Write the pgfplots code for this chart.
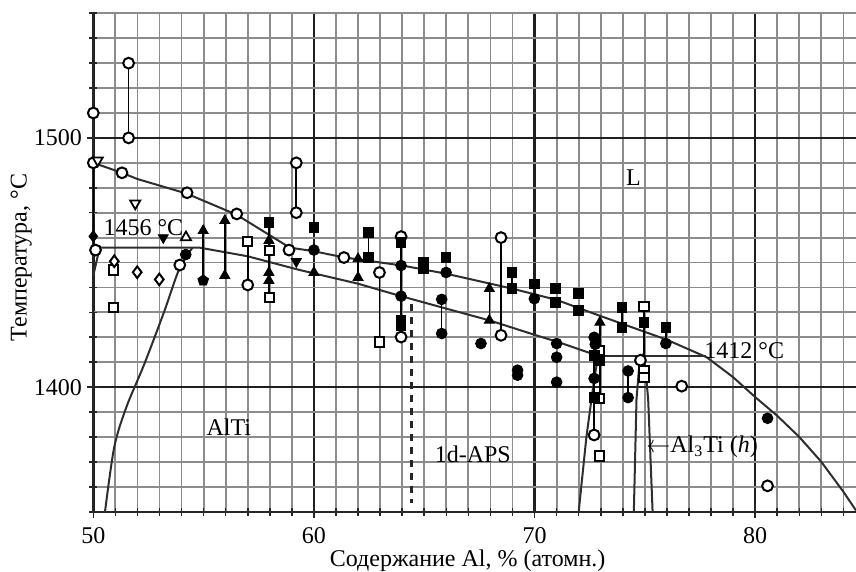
\documentclass[border=0pt]{standalone}
\usepackage{fontspec}
\setmainfont{Liberation Serif}
\usepackage{pgfplots}
\pgfplotsset{compat=1.18}

% marker styles used for the experimental points
\pgfplotsset{
  oc/.style={only marks, mark=*, mark size=2.7pt, mark options={draw=black, fill=white, line width=1pt}},
  fc/.style={only marks, mark=*, mark size=2.7pt, mark options={draw=black, fill=black}},
  os/.style={only marks, mark=square*, mark size=2.3pt, mark options={draw=black, fill=white, line width=1pt}},
  fs/.style={only marks, mark=square*, mark size=2.4pt, mark options={draw=black, fill=black}},
  ft/.style={only marks, mark=triangle*, mark size=2.9pt, mark options={draw=black, fill=black}},
  otu/.style={only marks, mark=triangle*, mark size=2.9pt, mark options={draw=black, fill=white, line width=0.9pt}},
  ftd/.style={only marks, mark=triangle*, mark size=2.9pt, mark options={draw=black, fill=black, rotate=180}},
  otd/.style={only marks, mark=triangle*, mark size=2.9pt, mark options={draw=black, fill=white, line width=0.9pt, rotate=180}},
  od/.style={only marks, mark=diamond*, mark size=2.9pt, mark options={draw=black, fill=white, line width=1pt}},
  fd/.style={only marks, mark=diamond*, mark size=2.9pt, mark options={draw=black, fill=black}},
  fp/.style={only marks, mark=pentagon*, mark size=2.8pt, mark options={draw=black, fill=black}},
  phase/.style={black!82, line width=1pt, no marks},
  conn/.style={black, line width=0.8pt, no marks},
}

\begin{document}
\fontsize{12}{14.4}\selectfont
\begin{tikzpicture}
\begin{axis}[
  name=ax,
  scale only axis,
  width=381.3pt, height=249.2pt,
  xmin=50, xmax=84.57, ymin=1350, ymax=1550,
  axis lines=left,
  axis line style={-, black!85, line width=1pt},
  every inner x axis line/.append style={-},
  every outer x axis line/.append style={-},
  every inner y axis line/.append style={-},
  every outer y axis line/.append style={-},
  xtick={50,60,70,80}, ytick={1400,1500},
  minor xtick={51,...,84},
  minor ytick={1350,1360,...,1550},
  grid=both,
  major grid style={black!88, line width=1.3pt},
  minor grid style={black!45, line width=0.9pt},
  tick align=center,
  major tick length=6pt, minor tick length=4pt,
  tick style={black!85, line width=0.8pt},
  /pgf/number format/assume math mode=true,
  /pgf/number format/1000 sep={},
  xticklabel style={inner sep=0.5pt, yshift=-4pt},
  yticklabel style={xshift=1.5pt},
  xlabel={Содержание Al, \% (атомн.)},
  ylabel={Температура, °C},
  xlabel style={at={(axis description cs:0.4907,-0.110)}, anchor=base, inner sep=0.5pt},
  ylabel style={at={(axis description cs:-0.0944,0.51)}, anchor=center},
  clip=false,
]

% phase boundaries
\addplot[phase] coordinates {
  (50,1490) (51.3,1486) (52,1483.5) (54.22,1477.7) (56.49,1469.2) (58.9,1456)
  (59.95,1454.6) (61.4,1452) (64,1448.8) (66,1445.5) (69,1439.5) (71,1435)
  (73,1428.5) (76,1419) (77.8,1412) (79,1404) (80,1396) (81,1388.5)
  (82,1380) (83,1370) (84,1358) (84.57,1350.5)};
\addplot[phase] coordinates {
  (50.3,1456) (54.8,1456) (57,1452.5) (59.35,1447) (62,1441.5) (63.95,1436.5)
  (66,1431.5) (67.95,1426.8) (70,1421) (71.1,1418) (72.9,1412.5)};
\addplot[phase] coordinates {(50.31,1456.8) (50,1444.8)};
\addplot[phase, smooth, tension=0.5] coordinates {
  (50.53,1350) (50.95,1376) (51.5,1392) (52.3,1409) (53.2,1430) (53.9,1447.5) (54.5,1456)};
\addplot[phase] coordinates {(72.9,1412.3) (77.75,1412.3)};
\addplot[phase] coordinates {(72.0,1350) (72.35,1380) (72.7,1403) (72.88,1412.5)};
\addplot[phase] coordinates {
  (74.5,1350) (74.62,1395) (74.74,1408) (74.88,1412.3) (75.02,1408) (75.15,1395) (75.35,1350)};
\addplot[black!85, line width=1.3pt, dash pattern=on 3.5pt off 3pt, no marks]
  coordinates {(64.42,1433.5) (64.42,1353.5)};

% vertical bars joining paired measurements
\addplot[conn] coordinates {(50,1455) (50,1490)};
\addplot[conn] coordinates {(51.6,1500) (51.6,1530)};
\addplot[conn] coordinates {(59.2,1470) (59.2,1490)};
\addplot[conn] coordinates {(54.98,1442.8) (54.98,1462.8)};
\addplot[conn] coordinates {(55.96,1444.8) (55.96,1466.8)};
\addplot[conn] coordinates {(57,1441) (57,1458.4)};
\addplot[conn] coordinates {(57.96,1436) (57.96,1466)};
\addplot[conn] coordinates {(62,1444) (62,1451.5)};
\addplot[conn] coordinates {(62.47,1452) (62.47,1462)};
\addplot[conn] coordinates {(62.97,1418.1) (62.97,1446)};
\addplot[conn] coordinates {(63.95,1420.1) (63.95,1460.4)};
\addplot[conn] coordinates {(65.79,1421.5) (65.79,1435.2)};
\addplot[conn] coordinates {(67.95,1426.8) (67.95,1439.5)};
\addplot[conn] coordinates {(68.48,1420.8) (68.48,1460)};
\addplot[conn] coordinates {(68.98,1439.5) (68.98,1446)};
\addplot[conn] coordinates {(72.7,1380.8) (72.7,1420)};
\addplot[conn] coordinates {(72.96,1395.5) (72.96,1426)};
\addplot[conn] coordinates {(73.96,1424) (73.96,1432)};
\addplot[conn] coordinates {(74.24,1395.8) (74.24,1406.5)};
\addplot[conn] coordinates {(74.96,1404) (74.96,1432.5)};
\addplot[conn] coordinates {(75.95,1417.5) (75.95,1424)};

% measured points
\addplot[oc] coordinates {
  (50,1510) (51.6,1530) (51.6,1500) (50,1490) (51.3,1486) (54.25,1478)
  (59.2,1490) (59.2,1470) (50.1,1455) (53.92,1449) (56.5,1469.5) (57,1441)
  (58.87,1455) (61.36,1452) (62.97,1446) (63.95,1460.4) (63.95,1420.1)
  (68.48,1460) (68.48,1420.8) (72.7,1380.8) (74.8,1410.8) (76.67,1400.4)
  (80.56,1360.4)};
\addplot[os] coordinates {
  (50.9,1447) (50.9,1432) (57,1458.4) (58,1454.8) (58,1436) (62.97,1418.1)
  (72.96,1414.8) (72.96,1395.5) (72.96,1372.4) (74.96,1432.5) (74.96,1406.5)
  (74.96,1404)};
\addplot[fc] coordinates {
  (54.19,1453.2) (60,1455) (63.95,1448.8) (63.95,1436.5) (65.99,1446)
  (65.79,1435.2) (65.79,1421.5) (67.57,1417.5) (69.99,1435.5) (71,1417.5)
  (71,1412) (71,1402) (72.7,1420) (72.75,1417.2) (72.7,1403.5) (74.24,1406.5)
  (74.24,1395.8) (69.23,1406.8) (69.23,1404.8) (80.56,1387.5) (75.95,1417.5)};
\addplot[fs] coordinates {
  (57.96,1466) (60,1464) (62.47,1462) (62.47,1452) (63.95,1458) (63.95,1426.8)
  (63.95,1424.8) (64.96,1450) (64.96,1447.5) (65.99,1452) (68.98,1446)
  (68.98,1439.5) (69.99,1441.5) (70.94,1439.5) (70.94,1434) (71.98,1437.5)
  (71.98,1430.8) (72.7,1412.8) (72.96,1410.8) (72.7,1395.8) (73.96,1432)
  (73.96,1424) (74.96,1426) (75.95,1424)};
\addplot[ft] coordinates {
  (54.98,1462.8) (55.96,1466.8) (55.96,1444.8) (57.96,1458.8) (57.96,1446)
  (57.96,1442.8) (60,1446) (62,1451.5) (62,1444) (67.95,1439.5) (67.95,1426.8)
  (72.96,1426)};
\addplot[ftd] coordinates {(53.17,1460) (59.2,1450.4)};
\addplot[otd] coordinates {(50.2,1491) (51.9,1473.7)};
\addplot[otu] coordinates {(54.2,1460.1)};
\addplot[fp] coordinates {(54.98,1442.8)};
\addplot[od] coordinates {(50.95,1450.5) (51.99,1446.1) (52.99,1443.2)};
\addplot[fd] coordinates {(50,1460.5)};

% region and temperature labels
\node[anchor=west, inner sep=0pt] at (axis cs:50.45,1464) {1456 °C};
\node[anchor=west, inner sep=0pt] at (axis cs:77.68,1414.8) {1412 °C};
\node at (axis cs:74.48,1484) {L};
\node at (axis cs:56.14,1384) {AlTi};
\node at (axis cs:67.2,1373) {1d-APS};
\node[anchor=west, inner sep=0pt] at (axis cs:75.05,1376) {$\leftarrow$Al\textsubscript{3}Ti (\textit{h})};
\end{axis}
\pgfresetboundingbox
\path[use as bounding box] ([xshift=-46.65pt,yshift=-29.65pt]ax.south west) rectangle ([yshift=6.65pt]ax.north east);
\end{tikzpicture}
\end{document}
